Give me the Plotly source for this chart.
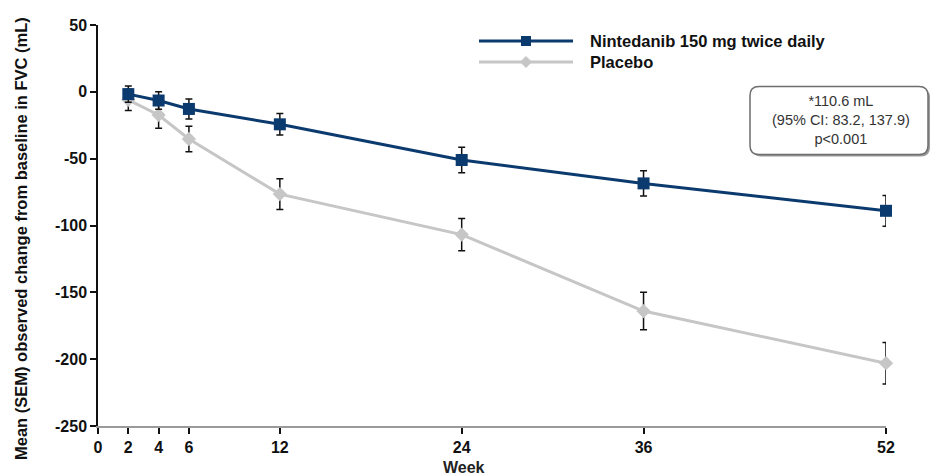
import plotly.graph_objects as go

weeks = [2, 4, 6, 12, 24, 36, 52]
nint_mean = [-1.7, -6.5, -12.8, -24.3, -51.0, -68.5, -89.0]
nint_sem = [6.0, 6.5, 7.5, 8.0, 9.5, 9.5, 11.5]
plac_mean = [-6.0, -17.3, -35.3, -76.5, -106.8, -164.0, -203.0]
plac_sem = [8.0, 10.0, 9.5, 11.5, 12.0, 14.0, 15.5]

x_ticks = [0, 2, 4, 6, 12, 24, 36, 52]
y_ticks = [50, 0, -50, -100, -150, -200, -250]

series_names = ["Nintedanib 150 mg twice daily", "Placebo"]
note_lines = ["*110.6 mL", "(95% CI: 83.2, 137.9)", "p<0.001"]

NAVY = "#0B3A6E"
GREY = "#C6C6C6"
FONT = "Liberation Sans, Arial, sans-serif"

fig = go.Figure()

fig.add_trace(go.Scatter(
    x=weeks, y=plac_mean, mode="lines+markers", name=series_names[1],
    line=dict(color=GREY, width=3),
    marker=dict(symbol="diamond", size=11, color=GREY),
    error_y=dict(type="data", array=plac_sem, color="#111111", thickness=1.5, width=3.5),
    cliponaxis=False, showlegend=False,
))
fig.add_trace(go.Scatter(
    x=weeks, y=nint_mean, mode="lines+markers", name=series_names[0],
    line=dict(color=NAVY, width=3),
    marker=dict(symbol="square", size=12, color=NAVY),
    error_y=dict(type="data", array=nint_sem, color="#111111", thickness=1.5, width=3.5),
    cliponaxis=False, showlegend=False,
))

# plot area geometry in pixels (for legend / box placement)
L, R, T, B = 98, 886, 25, 426
W, H = R - L, B - T
def px(x):
    return (x - L) / W
def py(y):
    return (B - y) / H

shapes = []
annotations = []

# custom legend
legend_rows = [(41, NAVY, "square"), (62, GREY, "diamond")]
for (yy, col, sym), name in zip(legend_rows, series_names):
    shapes.append(dict(type="line", xref="paper", yref="paper",
                       x0=px(479), x1=px(573), y0=py(yy), y1=py(yy),
                       line=dict(color=col, width=3)))
    if sym == "square":
        shapes.append(dict(type="rect", xref="paper", yref="paper",
                           xsizemode="pixel", ysizemode="pixel",
                           xanchor=px(526), yanchor=py(yy),
                           x0=-5, x1=5, y0=-5, y1=5,
                           fillcolor=col, line=dict(width=0)))
    else:
        shapes.append(dict(type="path", xref="paper", yref="paper",
                           xsizemode="pixel", ysizemode="pixel",
                           xanchor=px(526), yanchor=py(yy),
                           path="M -6 0 L 0 6 L 6 0 L 0 -6 Z",
                           fillcolor=col, line=dict(width=0)))
    annotations.append(dict(xref="paper", yref="paper", x=px(588), y=py(yy),
                            xanchor="left", yanchor="middle", showarrow=False,
                            text="<b>%s</b>" % name,
                            font=dict(family=FONT, size=16.5, color="#111111")))

# rounded note box with shadow
def rrect(w, h, r):
    hw, hh = w / 2, h / 2
    return (f"M {-hw+r} {-hh} L {hw-r} {-hh} Q {hw} {-hh} {hw} {-hh+r} "
            f"L {hw} {hh-r} Q {hw} {hh} {hw-r} {hh} L {-hw+r} {hh} "
            f"Q {-hw} {hh} {-hw} {hh-r} L {-hw} {-hh+r} Q {-hw} {-hh} {-hw+r} {-hh} Z")

bx, by, bw, bh = 839, 120.5, 178, 68
shapes.append(dict(type="path", xref="paper", yref="paper",
                   xsizemode="pixel", ysizemode="pixel",
                   xanchor=px(bx + 2), yanchor=py(by + 2),
                   path=rrect(bw, bh, 9), fillcolor="#9A9A9A", line=dict(width=0)))
shapes.append(dict(type="path", xref="paper", yref="paper",
                   xsizemode="pixel", ysizemode="pixel",
                   xanchor=px(bx), yanchor=py(by),
                   path=rrect(bw, bh, 9), fillcolor="white",
                   line=dict(color="#6E6E6E", width=1.5)))
annotations.append(dict(xref="paper", yref="paper", x=px(841), y=py(120),
                        xanchor="center", yanchor="middle", showarrow=False,
                        text="<br>".join(note_lines), align="center",
                        font=dict(family=FONT, size=14.5, color="#333333")))

# axis titles
annotations.append(dict(xref="paper", yref="paper", x=px(21), y=py(239),
                        xanchor="center", yanchor="middle", showarrow=False,
                        textangle=-90,
                        text="<b>Mean (SEM) observed change from baseline in FVC (mL)</b>",
                        font=dict(family=FONT, size=16.5, color="#111111")))
annotations.append(dict(xref="paper", yref="paper", x=px(464), y=py(467),
                        xanchor="center", yanchor="middle", showarrow=False,
                        text="<b>Week</b>",
                        font=dict(family=FONT, size=16, color="#222222")))

fig.update_layout(
    width=934, height=476,
    margin=dict(l=L, r=934 - R, t=T, b=476 - B),
    paper_bgcolor="white", plot_bgcolor="white",
    shapes=shapes, annotations=annotations,
    showlegend=False,
)
fig.update_xaxes(
    range=[0, 52], tickmode="array", tickvals=x_ticks,
    ticktext=["<b>%d</b>" % v for v in x_ticks],
    ticks="outside", ticklen=6, tickwidth=1.5, tickcolor="#111111",
    showline=True, linecolor="#9A9A9A", linewidth=2,
    showgrid=False, zeroline=False,
    tickfont=dict(family=FONT, size=16, color="#111111"),
)
fig.update_yaxes(
    range=[-250, 50], tickmode="array", tickvals=y_ticks,
    ticktext=["<b>%d</b>" % v for v in y_ticks],
    ticks="outside", ticklen=6, tickwidth=1.5, tickcolor="#111111",
    showline=True, linecolor="#111111", linewidth=1.5,
    showgrid=False, zeroline=False,
    tickfont=dict(family=FONT, size=16, color="#111111"),
)

fig.write_html("out.html")
